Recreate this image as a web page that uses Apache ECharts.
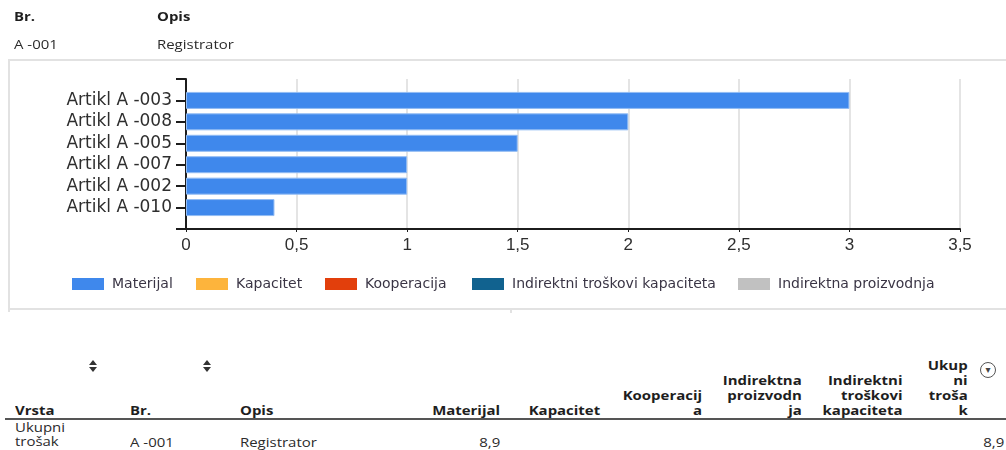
<!DOCTYPE html>
<html>
<head>
<meta charset="utf-8">
<script src="https://cdn.jsdelivr.net/npm/echarts@6/dist/echarts.min.js"></script>
<style>
  html, body { margin: 0; padding: 0; background: #fff; width: 1006px; height: 450px; overflow: hidden; position: relative; }
  .t { position: absolute; font-family: "Open Sans", sans-serif; font-size: 13px; line-height: 15px; color: #2b2b2b; white-space: nowrap; }
  .b { font-weight: bold; color: #1e1e1e; }
  .sl { transform: scaleX(1.15); transform-origin: left center; }
  .sr { transform: scaleX(1.15); transform-origin: right center; text-align: right; }
  #frame { position: absolute; left: 8px; top: 59px; width: 1010px; height: 247px; border: 2px solid #e2e2e2; }
  #chart { position: absolute; left: 0; top: 0; width: 1006px; height: 320px; }
  .up { position: absolute; width: 0; height: 0; border-left: 4px solid transparent; border-right: 4px solid transparent; border-bottom: 5px solid #333; }
  .dn { position: absolute; width: 0; height: 0; border-left: 4px solid transparent; border-right: 4px solid transparent; border-top: 5px solid #333; }
  #circ { position: absolute; left: 980px; top: 362px; width: 14px; height: 14px; border: 1.5px solid #555; border-radius: 50%; font-size: 10px; line-height: 14px; text-align: center; color: #444; font-family: "DejaVu Sans", sans-serif; }
  .hline { position: absolute; left: 5px; width: 1001px; height: 2px; background: #555; }
</style>
</head>
<body>
<div id="frame"></div>
<div style="position:absolute;left:510px;top:308px;width:2px;height:5px;background:#e2e2e2"></div>
<div style="position:absolute;left:8px;top:308px;width:2px;height:4px;background:#e2e2e2"></div>
<div id="chart"></div>

<div class="t b sl" style="left:14px;top:9px">Br.</div>
<div class="t b sl" style="left:157px;top:9px">Opis</div>
<div class="t sl" style="left:14px;top:37px">A -001</div>
<div class="t sl" style="left:157px;top:37px">Registrator</div>

<div class="up" style="left:89px;top:360px"></div>
<div class="dn" style="left:89px;top:367px"></div>
<div class="up" style="left:203px;top:360px"></div>
<div class="dn" style="left:203px;top:367px"></div>
<div id="circ">▾</div>

<div class="t b sl" style="left:15px;top:403px">Vrsta</div>
<div class="t b sl" style="left:130px;top:403px">Br.</div>
<div class="t b sl" style="left:240px;top:403px">Opis</div>
<div class="t b sr" style="right:506px;top:403px">Materijal</div>
<div class="t b sr" style="right:406px;top:403px">Kapacitet</div>
<div class="t b sr" style="right:304px;top:388px">Kooperacij<br>a</div>
<div class="t b sr" style="right:204px;top:373px">Indirektna<br>proizvodn<br>ja</div>
<div class="t b sr" style="right:104px;top:373px">Indirektni<br>troškovi<br>kapaciteta</div>
<div class="t b sr" style="right:38px;top:358px">Ukup<br>ni<br>troša<br>k</div>
<div class="hline" style="top:418px"></div>

<div class="t sl" style="left:15px;top:421px;line-height:13.5px">Ukupni<br>trošak</div>
<div class="t sl" style="left:130px;top:435px">A -001</div>
<div class="t sl" style="left:240px;top:435px">Registrator</div>
<div class="t sr" style="right:506px;top:435px">8,9</div>
<div class="t sr" style="right:2px;top:435px">8,9</div>

<script>
// ---- data ----
const categories = ['Artikl A -003', 'Artikl A -008', 'Artikl A -005', 'Artikl A -007', 'Artikl A -002', 'Artikl A -010'];
const materijal = [3, 2, 1.5, 1, 1, 0.4];
const seriesNames = ['Materijal', 'Kapacitet', 'Kooperacija', 'Indirektni troškovi kapaciteta', 'Indirektna proizvodnja'];
const seriesValues = [materijal, [], [], [], []];
const xMin = 0, xMax = 3.5, xStep = 0.5;

// ---- styles ----
const colors = ['#3f88ec', '#fdb43c', '#e23f0c', '#11628f', '#c1c1c1'];
const legendLefts = [72, 196, 325, 472, 738];

const chart = echarts.init(document.getElementById('chart'), null, { renderer: 'canvas' });
const yData = [''].concat(categories, ['']);

chart.setOption({
  animation: false,
  backgroundColor: 'transparent',
  grid: { left: 186, top: 79, right: 46, height: 150, containLabel: false },
  xAxis: {
    type: 'value', min: xMin, max: xMax, interval: xStep,
    axisLine: { show: true, lineStyle: { color: '#1c1c1c', width: 2 } },
    axisTick: { show: true, length: 3, lineStyle: { color: '#1c1c1c' } },
    splitLine: { show: true, lineStyle: { color: '#e4e4e4', width: 2 } },
    axisLabel: {
      margin: 8, color: '#2e2e2e', fontSize: 17, fontFamily: 'Liberation Sans',
      formatter: v => String(v).replace('.', ',')
    }
  },
  yAxis: {
    type: 'category', inverse: true, boundaryGap: false, data: yData,
    axisLine: { show: true, lineStyle: { color: '#1c1c1c', width: 2 } },
    axisTick: { show: true, length: 10, lineStyle: { color: '#1c1c1c', width: 2 } },
    splitLine: { show: false },
    axisLabel: { margin: 14, color: '#2e2e2e', fontSize: 17, fontFamily: 'DejaVu Sans', interval: 0 }
  },
  legend: seriesNames.map((n, i) => ({
    data: [n], left: legendLefts[i], top: 277, padding: 0, icon: 'rect',
    itemWidth: 32, itemHeight: 12, selectedMode: false,
    itemStyle: { borderWidth: 0 },
    textStyle: { fontSize: 14, fontFamily: 'DejaVu Sans', color: '#3a3545', padding: [0, 0, 0, 3] }
  })),
  series: seriesNames.map((n, i) => ({
    name: n, type: 'bar', stack: 'total', barWidth: 17,
    itemStyle: { color: colors[i], borderColor: '#92bcf4', borderWidth: 1 },
    data: seriesValues[i].length ? [null].concat(seriesValues[i], [null]) : []
  }))
});
</script>
</body>
</html>
